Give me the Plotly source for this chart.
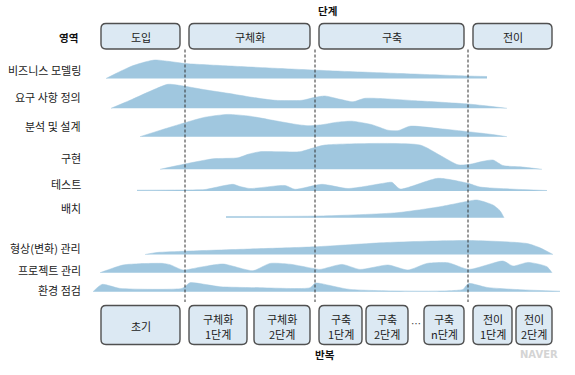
import plotly.graph_objects as go

# ---------------- data ----------------
DISCIPLINES = ["비즈니스 모델링", "요구 사항 정의", "분석 및 설계", "구현", "테스트", "배치",
               "형상(변화) 관리", "프로젝트 관리", "환경 점검"]

BM_X = [106, 118, 132, 145, 155, 170, 185, 230, 280, 335, 400, 467, 487]
BM_H = [0, 6, 12.5, 16.5, 18.5, 17, 15, 12.5, 10, 7.5, 5, 2.5, 2]

RQ_X = [111, 130, 150, 168, 185, 205, 228, 252, 275, 302, 315, 325, 340, 353, 365, 420, 468, 490, 507]
RQ_H = [0, 8, 17, 24, 22, 18.5, 15, 11, 8, 8, 11, 12.3, 9, 6.5, 10, 7.3, 4.3, 2, 0]

AD_X = [140, 162, 185, 205, 228, 250, 275, 295, 308, 322, 337, 352, 372, 388, 398, 410, 440, 468, 490, 507]
AD_H = [0, 7, 14, 19.5, 22.3, 20.5, 16, 12.5, 11, 12, 14.5, 15.5, 12, 6.5, 6, 10.5, 8, 5, 2.5, 0]

IM_X = [160, 185, 213, 238, 248, 260, 300, 312, 325, 420, 440, 458, 470, 483, 493, 503, 520, 542]
IM_H = [0, 5.3, 10.5, 11.5, 15, 17.6, 17.6, 21, 24.3, 24.3, 14, 4.5, 5, 8, 9.3, 3.7, 2.5, 0]

TS_X = [137, 180, 205, 222, 233, 240, 250, 285, 295, 322, 348, 385, 392, 400, 438, 468, 480, 510, 547]
TS_H = [0.8, 1, 1.5, 5, 6.7, 4.5, 2.5, 5.5, 1.7, 6.7, 2.5, 8, 8.7, 2, 12.7, 7.7, 4, 2, 0.5]

DP_X = [226, 320, 397, 440, 469, 477, 493, 500, 504]
DP_H = [1.2, 1.7, 5, 11, 16.7, 17.7, 12.7, 7, 0]

CM_X = [145, 157, 185, 250, 315, 387, 469, 527, 540, 553]
CM_H = [0, 2, 3.3, 5.5, 7.7, 12, 14, 11, 6.7, 0]

PM_X = [100, 123, 140, 163, 170, 183, 200, 223, 253, 270, 290, 313, 320, 342, 360, 388, 408, 427, 448, 469, 503, 513, 528, 547, 552]
PM_H = [0, 7.7, 9, 9.3, 8, 2.7, 5.5, 8.7, 2, 9.3, 8.5, 4.3, 3.3, 8.3, 3.3, 7.7, 2.7, 9.3, 10, 3.3, 11.7, 6.7, 10.3, 6, 0]

EN_X = [93, 102, 120, 182, 186, 190, 220, 260, 310, 315, 320, 350, 463, 466, 469, 487, 520, 560]
EN_H = [0, 7.3, 3.3, 3.3, 6, 9, 5, 4, 4, 8.5, 8.3, 2.3, 2.3, 6, 8.3, 4.3, 2, 0.5]

PHASES = ["도입", "구체화", "구축", "전이"]
ITER_TOP = ["초기", "구체화", "구체화", "구축", "구축", "구축", "전이", "전이"]
ITER_BOTTOM = ["", "1단계", "2단계", "1단계", "2단계", "n단계", "1단계", "2단계"]

# ---------------- layout constants ----------------
ROW_BASE = [78.5, 108.3, 136.7, 169.3, 191, 217.7, 254.5, 272.7, 291.7]
ROW_LABEL_Y = [70, 97, 126, 158, 184, 208, 248, 270, 290]
PHASE_SPANS = [(101, 180), (189, 310), (319, 464), (473, 552)]
ITER_SPANS = [(101, 180), (189, 247), (254, 310), (319, 362), (366, 408), (424, 464), (473, 512), (516, 552)]
DASH_X = [185, 315, 468]

FILL = "#a0c7df"
BOX_FILL = "#dce9f3"
BOX_LINE = "#505050"
FONT = "Noto Sans CJK KR"

series = [(BM_X, BM_H), (RQ_X, RQ_H), (AD_X, AD_H), (IM_X, IM_H), (TS_X, TS_H),
          (DP_X, DP_H), (CM_X, CM_H), (PM_X, PM_H), (EN_X, EN_H)]

fig = go.Figure()
for (xs, hs), base in zip(series, ROW_BASE):
    fig.add_trace(go.Scatter(x=[xs[0], xs[-1]], y=[base, base], mode="lines",
                             line=dict(width=0, color=FILL), hoverinfo="skip", showlegend=False))
    fig.add_trace(go.Scatter(x=xs, y=[base - h for h in hs], mode="lines",
                             line=dict(width=0.5, color=FILL, shape="spline", smoothing=0.6),
                             fill="tonexty", fillcolor=FILL, hoverinfo="skip", showlegend=False))


def rrect(x0, y0, x1, y1, r=5):
    return (f"M {x0+r},{y0} L {x1-r},{y0} Q {x1},{y0} {x1},{y0+r} L {x1},{y1-r} "
            f"Q {x1},{y1} {x1-r},{y1} L {x0+r},{y1} Q {x0},{y1} {x0},{y1-r} "
            f"L {x0},{y0+r} Q {x0},{y0} {x0+r},{y0} Z")


shapes = []
annotations = []
txt_font = dict(family=FONT, size=11, color="#222")
for name, (a, b) in zip(PHASES, PHASE_SPANS):
    shapes.append(dict(type="path", path=rrect(a, 23.5, b, 49), xref="x", yref="y",
                       fillcolor=BOX_FILL, line=dict(color=BOX_LINE, width=1.4), layer="below"))
    annotations.append(dict(x=(a + b) / 2, y=36.5, text=name, showarrow=False, font=txt_font))
for top, bot, (a, b) in zip(ITER_TOP, ITER_BOTTOM, ITER_SPANS):
    shapes.append(dict(type="path", path=rrect(a, 305.5, b, 344.5), xref="x", yref="y",
                       fillcolor=BOX_FILL, line=dict(color=BOX_LINE, width=1.4), layer="below"))
    if bot:
        annotations.append(dict(x=(a + b) / 2, y=318.5, text=top, showarrow=False, font=txt_font))
        annotations.append(dict(x=(a + b) / 2, y=333.5, text=bot, showarrow=False, font=txt_font))
    else:
        annotations.append(dict(x=(a + b) / 2, y=325.5, text=top, showarrow=False, font=txt_font))
annotations.append(dict(x=416, y=323, text="…", showarrow=False,
                        font=dict(family=FONT, size=10, color="#444")))

for dx in DASH_X:
    shapes.append(dict(type="line", x0=dx, x1=dx, y0=49.5, y1=302, xref="x", yref="y",
                       line=dict(color="#333", width=1, dash="3px,2px"), layer="above"))

for name, y in zip(DISCIPLINES, ROW_LABEL_Y):
    annotations.append(dict(x=83, y=y, text=name, showarrow=False, xanchor="right",
                            font=dict(family=FONT, size=11, color="#222")))

annotations += [
    dict(x=80, y=37, text="<b>영역</b>", showarrow=False, xanchor="right",
         font=dict(family=FONT, size=10.5, color="#111")),
    dict(x=327, y=10, text="<b>단계</b>", showarrow=False,
         font=dict(family=FONT, size=10.5, color="#111")),
    dict(x=325, y=354, text="<b>반복</b>", showarrow=False,
         font=dict(family=FONT, size=10.5, color="#111")),
    dict(x=539, y=354, text="<b>NAVER</b>", showarrow=False,
         font=dict(family="DejaVu Sans", size=10, color="#d4d4d4")),
]

fig.update_layout(
    width=575, height=375, margin=dict(l=0, r=0, t=0, b=0),
    paper_bgcolor="white", plot_bgcolor="white",
    xaxis=dict(range=[0, 575], visible=False, fixedrange=True),
    yaxis=dict(range=[375, 0], visible=False, fixedrange=True),
    shapes=shapes, annotations=annotations, showlegend=False,
)

fig.write_html("out.html", config={"displayModeBar": False},
               post_script="document.body.style.margin='0';document.body.style.overflow='hidden';")
